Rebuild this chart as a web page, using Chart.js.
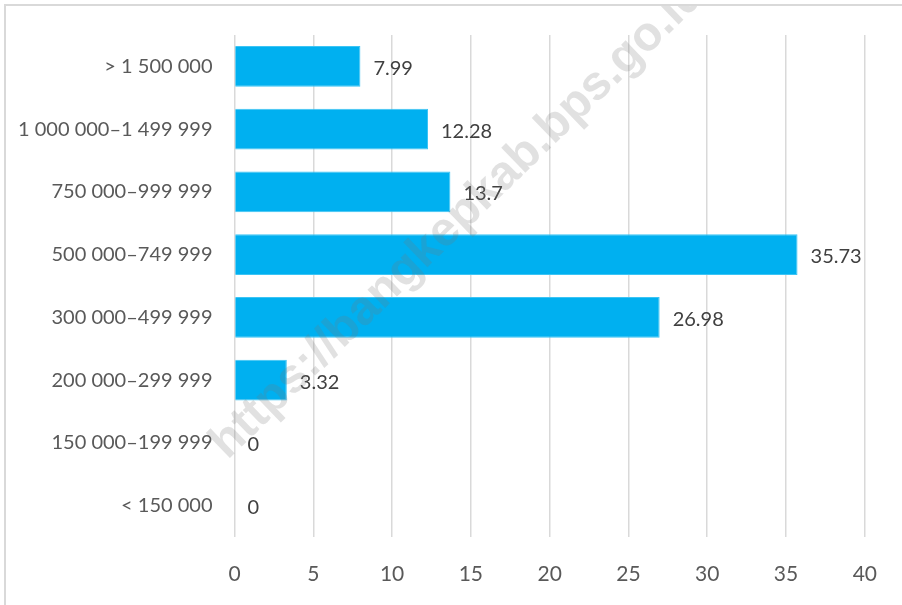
<!DOCTYPE html>
<html>
<head>
<meta charset="utf-8">
<script src="https://cdn.jsdelivr.net/npm/chart.js@4"></script>
<style>
  html,body{margin:0;padding:0;background:#fff;overflow:hidden}
  #wrap{position:relative;width:902px;height:605px}
  #frame{position:absolute;left:4px;top:4px;width:940px;height:640px;border:2px solid #d9d9d9;box-sizing:border-box}
  #clip{position:absolute;left:6px;top:6px;width:896px;height:599px;overflow:hidden;pointer-events:none}
  #mark{position:absolute;left:227px;top:412px;font:bold 48px "Liberation Sans",Arial,sans-serif;line-height:1;
        color:rgba(120,120,120,0.22);white-space:nowrap;transform-origin:0 100%;transform:rotate(-44deg)}
</style>
</head>
<body>
<div id="wrap">
  <div id="frame"></div>
  <canvas id="c" width="902" height="605"></canvas>
  <div id="clip"><div id="mark">https://bangkepkab.bps.go.id</div></div>
</div>
<script>
// categories top to bottom
const categories = ['> 1 500 000','1 000 000–1 499 999','750 000–999 999','500 000–749 999',
  '300 000–499 999','200 000–299 999','150 000–199 999','< 150 000'];
const values = [7.99, 12.28, 13.7, 35.73, 26.98, 3.32, 0, 0];
const xTicks = [0,5,10,15,20,25,30,35,40];

const FONT = 'Lato, "Open Sans", sans-serif';

// value labels to the right of each bar
const barLabels = {
  id:'barLabels',
  afterDatasetsDraw(chart){
    const ctx = chart.ctx;
    const meta = chart.getDatasetMeta(0);
    ctx.save();
    ctx.font = '20px ' + FONT;
    ctx.fillStyle = '#404040';
    ctx.textAlign = 'left';
    ctx.textBaseline = 'middle';
    meta.data.forEach((bar,i)=>{
      ctx.fillText(String(values[i]), bar.x + 13, bar.y + 2);
    });
    ctx.restore();
  }
};

new Chart(document.getElementById('c').getContext('2d'), {
  type:'bar',
  data:{ labels:categories, datasets:[{ data:values, backgroundColor:'#00b0f0', borderColor:'#3cc4f4', borderWidth:1,
    categoryPercentage:1, barPercentage:0.65 }] },
  options:{
    indexAxis:'y',
    responsive:false,
    animation:false,
    layout:{ padding:{ top:35, right:36, left:0, bottom:0 } },
    plugins:{ legend:{display:false}, tooltip:{enabled:false} },
    scales:{
      x:{
        min:0, max:40,
        afterBuildTicks(s){ s.ticks = xTicks.map(v=>({value:v})); },
        afterFit(s){ s.height = 68; },
        grid:{ color:'#d9d9d9', lineWidth:1.5, drawTicks:false },
        border:{ display:false },
        ticks:{ color:'#595959', font:{ family:FONT, size:21 }, padding:25 }
      },
      y:{
        afterFit(s){ s.width = 234.5; },
        grid:{ display:false, drawTicks:false },
        border:{ display:false },
        ticks:{ color:'#595959', font:{ family:FONT, size:20 }, padding:22 }
      }
    }
  },
  plugins:[barLabels]
});
</script>
</body>
</html>
